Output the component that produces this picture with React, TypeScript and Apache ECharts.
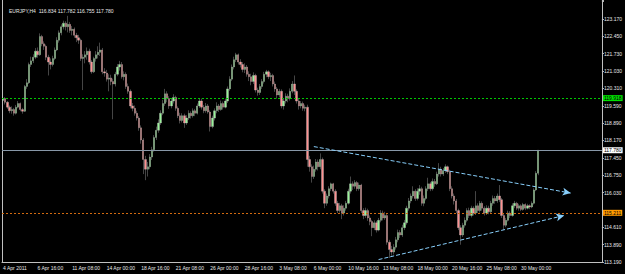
import React, { useEffect, useRef } from 'react';
import * as echarts from 'echarts';

const titleText = 'EURJPY,H4  116.834 117.782 116.755 117.780';

const xTickLabels = [
  '4 Apr 2011', '6 Apr 16:00', '11 Apr 08:00', '14 Apr 00:00', '18 Apr 16:00',
  '21 Apr 08:00', '26 Apr 00:00', '28 Apr 16:00', '3 May 08:00', '6 May 00:00',
  '10 May 16:00', '13 May 08:00', '18 May 00:00', '20 May 16:00', '25 May 08:00',
  '30 May 00:00',
];

// 115.320 is hidden under the orange price label in the reference
const yTickLabels = [
  '113.190', '113.890', '114.610', '116.030', '116.750', '117.450', '118.170',
  '118.890', '119.590', '120.310', '121.030', '121.730', '122.450', '123.170',
];

// [open, close, low, high]
const week1 = [
  [119.82, 119.9, 119.74, 120.02], [119.9, 119.75, 119.66, 119.96], [119.75, 119.55, 119.48, 119.8],
  [119.55, 119.4, 119.3, 119.62], [119.4, 119.45, 119.28, 119.58], [119.45, 119.3, 119.2, 119.52],
  [119.3, 119.55, 119.25, 119.64], [119.55, 119.7, 119.5, 119.8], [119.7, 119.45, 119.38, 119.74],
  [119.45, 119.38, 119.28, 119.52], [119.38, 120.4, 119.35, 120.46], [120.4, 120.55, 120.3, 120.7],
  [120.55, 121.3, 120.5, 121.38], [121.3, 121.45, 121.2, 121.62], [121.45, 121.6, 121.36, 121.72],
  [121.6, 121.85, 121.52, 121.98], [121.85, 121.7, 121.58, 122.0], [121.7, 122.45, 121.66, 122.58],
  [122.45, 122.15, 122.05, 122.52], [122.15, 122.05, 121.9, 122.25], [122.05, 121.6, 121.48, 122.12],
  [121.6, 121.4, 120.85, 121.7], [121.4, 121.3, 121.1, 121.55], [121.3, 121.55, 121.22, 121.66],
  [121.55, 121.9, 121.48, 122.0], [121.9, 122.3, 121.85, 122.42], [122.3, 122.6, 122.2, 122.7],
  [122.6, 122.85, 122.5, 122.95], [122.85, 123.0, 122.74, 123.1], [123.0, 122.85, 122.7, 123.08],
];
const week2 = [
  [122.85, 122.95, 122.62, 123.3], [122.95, 122.7, 122.6, 123.05], [122.7, 122.75, 122.5, 122.88],
  [122.75, 122.5, 122.4, 122.82], [122.5, 122.4, 122.22, 122.6], [122.4, 122.3, 122.15, 122.52],
  [122.3, 121.55, 121.45, 122.36], [121.55, 121.6, 120.25, 121.72], [121.6, 121.7, 121.35, 121.85],
  [121.7, 121.85, 121.5, 122.0], [121.85, 121.4, 121.3, 121.95], [121.4, 121.0, 120.92, 121.48],
  [121.0, 121.55, 120.95, 121.62], [121.55, 121.7, 121.42, 121.85], [121.7, 121.8, 121.55, 122.05],
  [121.8, 121.9, 121.65, 122.2], [121.9, 121.0, 120.9, 121.98], [121.0, 120.95, 120.8, 121.15],
  [120.95, 120.7, 120.6, 121.08], [120.7, 120.75, 120.2, 120.9], [120.75, 120.6, 120.45, 120.88],
  [120.6, 120.5, 119.05, 120.72], [120.5, 120.9, 120.4, 121.0], [120.9, 121.2, 120.82, 121.32],
  [121.2, 121.3, 121.05, 121.45], [121.3, 120.8, 120.72, 121.4], [120.8, 120.9, 120.65, 121.02],
  [120.9, 120.4, 120.3, 120.98], [120.4, 120.2, 120.1, 120.52], [120.2, 119.6, 119.5, 120.28],
];
const week3 = [
  [119.6, 119.5, 119.38, 119.72], [119.5, 119.3, 119.2, 119.62], [119.3, 119.1, 119.0, 119.4],
  [119.1, 118.7, 118.58, 119.18], [118.7, 118.2, 118.05, 118.8], [118.2, 117.4, 116.8, 118.28],
  [117.4, 117.0, 116.55, 117.55], [117.0, 117.1, 116.7, 117.3], [117.1, 117.5, 117.0, 117.62],
  [117.5, 117.8, 117.38, 117.92], [117.8, 118.3, 117.72, 118.4], [118.3, 118.6, 118.2, 118.75],
  [118.6, 118.9, 118.5, 119.05], [118.9, 119.3, 118.82, 119.42], [119.3, 119.7, 119.22, 119.85],
  [119.7, 120.1, 119.6, 120.3], [120.1, 119.9, 119.75, 120.2], [119.9, 119.6, 119.48, 120.0],
  [119.6, 119.8, 119.5, 119.92], [119.8, 119.95, 119.7, 120.08], [119.95, 119.5, 119.4, 120.02],
  [119.5, 119.2, 119.1, 119.58], [119.2, 119.0, 118.88, 119.32], [119.0, 119.2, 118.92, 119.3],
  [119.2, 118.9, 118.7, 119.28], [118.9, 119.1, 118.82, 119.22], [119.1, 119.3, 119.02, 119.42],
  [119.3, 119.2, 119.08, 119.38], [119.2, 119.4, 119.12, 119.5], [119.4, 119.3, 119.18, 119.48],
];
const week4 = [
  [119.3, 119.6, 119.25, 119.7], [119.6, 119.8, 119.52, 119.92], [119.8, 119.55, 119.45, 119.9],
  [119.55, 119.4, 119.3, 119.64], [119.4, 119.6, 119.32, 119.72], [119.6, 119.35, 119.28, 119.68],
  [119.35, 118.75, 118.55, 119.42], [118.75, 119.1, 118.68, 119.2], [119.1, 119.4, 119.0, 119.5],
  [119.4, 119.6, 119.3, 119.75], [119.6, 119.45, 119.35, 119.68], [119.45, 119.7, 119.4, 119.82],
  [119.7, 119.55, 119.45, 119.78], [119.55, 119.8, 119.5, 119.9], [119.8, 120.3, 119.72, 120.4],
  [120.3, 120.7, 120.22, 120.82], [120.7, 121.2, 120.62, 121.3], [121.2, 121.5, 121.1, 121.62],
  [121.5, 121.7, 121.4, 121.78], [121.7, 121.4, 121.3, 121.75], [121.4, 121.3, 121.18, 121.52],
  [121.3, 121.1, 120.98, 121.4], [121.1, 121.2, 120.95, 121.35], [121.2, 120.9, 120.8, 121.28],
  [120.9, 120.8, 120.62, 121.02], [120.8, 120.6, 120.45, 120.92], [120.6, 120.85, 120.5, 120.98],
  [120.85, 120.25, 120.15, 120.92], [120.25, 120.15, 120.02, 120.35], [120.15, 120.4, 120.05, 120.5],
];
const week5 = [
  [120.4, 120.6, 120.3, 120.7], [120.6, 120.9, 120.52, 121.0], [120.9, 121.0, 120.78, 121.08],
  [121.0, 120.8, 120.7, 121.06], [120.8, 120.85, 120.62, 120.96], [120.85, 120.5, 120.4, 120.92],
  [120.5, 120.3, 120.18, 120.6], [120.3, 120.05, 119.9, 120.38], [120.05, 120.2, 119.95, 120.3],
  [120.2, 119.6, 119.5, 120.28], [119.6, 119.8, 119.45, 119.9], [119.8, 120.0, 119.7, 120.12],
  [120.0, 119.9, 119.75, 120.1], [119.9, 120.2, 119.82, 120.32], [120.2, 120.5, 120.12, 120.62],
  [120.5, 120.2, 120.05, 120.85], [120.2, 119.8, 119.7, 120.28], [119.8, 119.6, 119.45, 119.88],
  [119.6, 119.7, 119.5, 119.8], [119.7, 119.5, 119.4, 119.78], [119.5, 119.55, 119.38, 119.65],
  [119.55, 117.4, 117.1, 119.65], [117.4, 117.1, 116.9, 117.55], [117.1, 116.7, 116.45, 117.2],
  [116.7, 117.0, 116.6, 117.15], [117.0, 117.3, 116.9, 117.42], [117.3, 117.1, 116.95, 117.4],
  [117.1, 117.4, 117.0, 117.65], [117.4, 116.1, 116.0, 117.48], [116.1, 115.6, 115.4, 116.18],
];
const week6 = [
  [115.6, 115.9, 115.5, 116.0], [115.9, 116.2, 115.8, 116.3], [116.2, 116.4, 116.1, 116.45],
  [116.4, 116.1, 116.0, 116.44], [116.1, 115.6, 115.5, 116.18], [115.6, 115.3, 115.2, 115.7],
  [115.3, 115.5, 115.22, 115.62], [115.5, 115.2, 114.95, 115.58], [115.2, 115.4, 115.1, 115.52],
  [115.4, 115.6, 115.3, 115.7], [115.6, 116.1, 115.55, 116.2], [116.1, 116.4, 116.0, 116.7],
  [116.4, 116.3, 116.15, 116.5], [116.3, 116.45, 116.2, 116.55], [116.45, 116.2, 116.1, 116.52],
  [116.2, 116.35, 116.12, 116.45], [116.35, 115.3, 115.2, 116.4], [115.3, 115.1, 114.95, 115.4],
  [115.1, 115.3, 115.0, 115.42], [115.3, 115.0, 114.88, 115.38], [115.0, 114.85, 114.7, 115.1],
  [114.85, 114.6, 114.25, 114.92], [114.6, 114.8, 114.5, 114.9], [114.8, 114.5, 114.4, 114.88],
  [114.5, 114.9, 114.45, 115.0], [114.9, 115.2, 114.82, 115.32], [115.2, 115.0, 114.9, 115.3],
  [115.0, 115.1, 114.92, 115.25], [115.1, 114.0, 113.9, 115.18], [114.0, 113.7, 113.35, 114.1],
];
const week7 = [
  [113.7, 113.6, 113.45, 113.85], [113.6, 113.8, 113.5, 113.92], [113.8, 114.1, 113.7, 114.22],
  [114.1, 114.4, 114.0, 114.52], [114.4, 114.3, 114.18, 114.5], [114.3, 114.6, 114.22, 114.72],
  [114.6, 114.8, 114.5, 114.92], [114.8, 115.4, 114.72, 115.5], [115.4, 115.7, 115.3, 115.82],
  [115.7, 115.9, 115.6, 116.0], [115.9, 116.1, 115.8, 116.3], [116.1, 115.8, 115.7, 116.18],
  [115.8, 116.1, 115.72, 116.22], [116.1, 116.2, 115.95, 116.35], [116.2, 115.6, 115.5, 116.28],
  [115.6, 115.8, 115.48, 115.92], [115.8, 116.2, 115.72, 116.3], [116.2, 116.4, 116.1, 116.65],
  [116.4, 116.2, 116.1, 116.48], [116.2, 116.5, 116.12, 116.62], [116.5, 116.4, 116.28, 116.6],
  [116.4, 116.8, 116.35, 116.9], [116.8, 117.0, 116.7, 117.25], [117.0, 116.8, 116.7, 117.1],
  [116.8, 116.95, 116.72, 117.05], [116.95, 117.1, 116.85, 117.2], [117.1, 116.9, 116.8, 117.15],
  [116.9, 116.2, 116.1, 116.98], [116.2, 115.9, 115.8, 116.3], [115.9, 115.7, 115.55, 116.0],
];
const week8 = [
  [115.7, 115.3, 115.2, 115.78], [115.3, 114.6, 114.5, 115.38], [114.6, 114.3, 113.9, 114.7],
  [114.3, 114.7, 114.22, 114.8], [114.7, 114.9, 114.6, 115.02], [114.9, 115.3, 114.82, 115.4],
  [115.3, 115.1, 115.0, 115.42], [115.1, 115.4, 115.02, 115.5], [115.4, 115.2, 115.1, 115.48],
  [115.2, 115.5, 115.12, 116.1], [115.5, 115.3, 115.2, 115.6], [115.3, 115.6, 115.22, 115.7],
  [115.6, 115.4, 115.3, 115.68], [115.4, 115.2, 115.1, 115.48], [115.2, 115.4, 115.12, 115.52],
  [115.4, 115.25, 115.15, 115.5], [115.25, 115.6, 115.2, 115.7], [115.6, 115.8, 115.5, 115.92],
  [115.8, 115.7, 115.58, 115.9], [115.7, 115.9, 115.62, 116.0], [115.9, 115.75, 115.65, 116.35],
  [115.75, 115.1, 115.0, 115.82], [115.1, 114.7, 114.5, 115.18], [114.7, 114.9, 114.62, 115.0],
  [114.9, 115.2, 114.85, 115.3], [115.2, 115.1, 115.0, 115.28], [115.1, 115.5, 115.05, 115.6],
  [115.5, 115.6, 115.4, 115.7], [115.6, 115.4, 115.32, 115.66], [115.4, 115.5, 115.3, 115.58],
];
const week9 = [
  [115.5, 115.35, 115.28, 115.56], [115.35, 115.55, 115.3, 115.62], [115.55, 115.4, 115.32, 115.6],
  [115.4, 115.5, 115.35, 115.58], [115.5, 115.45, 115.36, 115.56], [115.45, 115.6, 115.4, 115.68],
  [115.6, 116.15, 115.55, 116.22], [116.15, 116.83, 116.1, 116.92], [116.834, 117.78, 116.755, 117.782],
];

const levelGreen = 119.918;
const levelBid = 117.78;
const levelOrange = 115.211;

// trendline anchors: [bar index, price]
const upperTrend = [[144, 117.93], [263, 116.02]];
const lowerTrend = [[174, 113.29], [259.5, 115.1]];

const TOTAL_SLOTS = 278;
const TICK_STEP = 16;

export default function App() {
  const ref = useRef<HTMLDivElement>(null);

  useEffect(() => {
    if (!ref.current) return;
    const chart = echarts.init(ref.current, null, { renderer: 'svg' });
    const candles = [...week1, ...week2, ...week3, ...week4, ...week5, ...week6, ...week7, ...week8, ...week9];
    const categories: string[] = [];
    for (let i = 0; i < TOTAL_SLOTS; i++) categories.push(String(i));
    const showTick = (index: number) => index % TICK_STEP === 0 && index / TICK_STEP < xTickLabels.length;
    const font = 'Liberation Sans';
    const yFormatter = (v: number) => {
      let best = '';
      let bd = 0.1;
      for (const s of yTickLabels) {
        const d = Math.abs(parseFloat(s) - v);
        if (d < bd) { bd = d; best = s; }
      }
      return best;
    };
    const hLabel = (text: string, bg: string) => ({
      show: true,
      position: 'end',
      distance: 1,
      formatter: text,
      color: '#000',
      backgroundColor: bg,
      fontSize: 5,
      fontFamily: font,
      padding: [1, 1, 0, 1],
    });
    const trendStyle = { color: '#87cefa', type: [4, 2], width: 1 };

    chart.setOption({
      animation: false,
      backgroundColor: '#000',
      title: {
        text: titleText,
        left: 4,
        top: 3,
        textStyle: { color: '#e8e8e8', fontSize: 5, fontWeight: 'normal', fontFamily: font },
      },
      grid: { left: 2, right: 22, top: 0, bottom: 12 },
      xAxis: {
        type: 'category',
        data: categories,
        boundaryGap: true,
        axisLine: { lineStyle: { color: '#c0c0c0', width: 1 } },
        axisTick: { interval: showTick, alignWithLabel: true, length: 3, lineStyle: { color: '#c0c0c0' } },
        axisLabel: {
          interval: showTick,
          formatter: (_v: string, idx: number) => xTickLabels[idx / TICK_STEP] ?? '',
          align: 'left',
          color: '#e8e8e8',
          fontSize: 5,
          fontFamily: font,
          margin: 3,
        },
        splitLine: { show: false },
      },
      yAxis: {
        type: 'value',
        position: 'right',
        min: 113.19,
        max: 123.95,
        interval: (123.17 - 113.19) / 14,
        axisLine: { show: true, lineStyle: { color: '#c0c0c0', width: 1 } },
        axisTick: { show: true, length: 2, lineStyle: { color: '#c0c0c0' } },
        axisLabel: { formatter: yFormatter, color: '#e8e8e8', fontSize: 5, fontFamily: font, margin: 2 },
        splitLine: { show: false },
      },
      graphic: [
        { type: 'line', shape: { x1: 2.5, y1: 0, x2: 2.5, y2: 262 }, style: { stroke: '#c0c0c0', lineWidth: 1 } },
      ],
      series: [
        {
          type: 'candlestick',
          data: candles,
          barWidth: 1.8,
          itemStyle: {
            color: '#98f498',
            color0: '#ff9090',
            borderColor: '#c8c8c8',
            borderColor0: '#c8c8c8',
            borderWidth: 0.35,
          },
          markLine: {
            silent: true,
            symbol: ['none', 'none'],
            animation: false,
            data: [
              { yAxis: levelGreen, lineStyle: { color: '#00c800', type: [2, 2], width: 1 }, label: hLabel('119.918', '#00e000') },
              { yAxis: levelBid, lineStyle: { color: '#8898a8', type: 'solid', width: 1 }, label: hLabel('117.780', '#ffffff') },
              { yAxis: levelOrange, lineStyle: { color: '#d26a10', type: [2, 2], width: 1.2 }, label: hLabel('115.211', '#ff9a00') },
              [
                { coord: upperTrend[0], symbol: 'none', lineStyle: trendStyle, label: { show: false } },
                { coord: upperTrend[1], symbol: 'arrow', symbolSize: [6, 8] },
              ],
              [
                { coord: lowerTrend[0], symbol: 'none', lineStyle: trendStyle, label: { show: false } },
                { coord: lowerTrend[1], symbol: 'arrow', symbolSize: [6, 8] },
              ],
            ],
          },
        },
      ],
    });
    return () => chart.dispose();
  }, []);

  return <div ref={ref} style={{ position: 'fixed', left: 0, top: 0, width: 625, height: 274 }} />;
}
